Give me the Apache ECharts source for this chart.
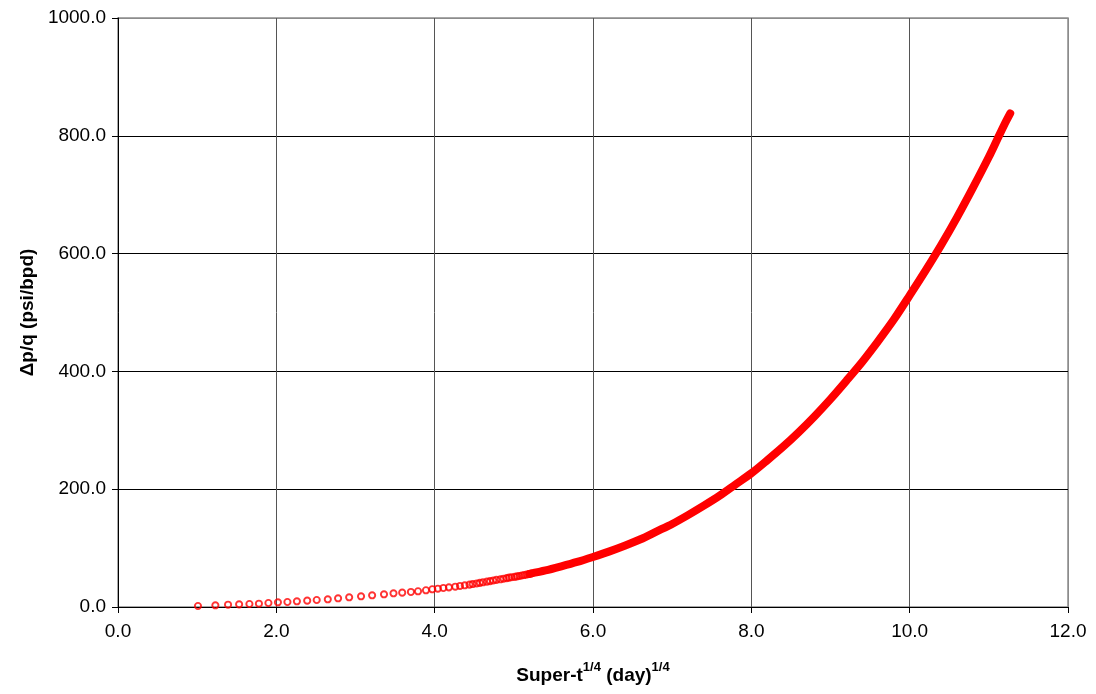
<!DOCTYPE html>
<html>
<head>
<meta charset="utf-8">
<script src="https://cdn.jsdelivr.net/npm/echarts@6/dist/echarts.min.js"></script>
<style>
  html, body { margin: 0; padding: 0; background: #fff; }
  #chart { width: 1096px; height: 694px; }
</style>
</head>
<body>
<div id="chart"></div>
<script>
// Early-time points, drawn as individual hollow markers
const xSparse = [1.01, 1.23, 1.39, 1.53, 1.66, 1.78, 1.90, 2.02, 2.14, 2.26, 2.39, 2.51, 2.65, 2.78,
  2.92, 3.07, 3.21, 3.36, 3.48, 3.59, 3.70, 3.79, 3.89, 3.97, 4.04, 4.11, 4.18, 4.26, 4.32, 4.38,
  4.44, 4.48, 4.53, 4.57, 4.61, 4.66, 4.70, 4.74, 4.78, 4.83, 4.87, 4.91, 4.94, 4.97, 5.01, 5.04,
  5.07, 5.10, 5.13, 5.16, 5.19, 5.22];
const ySparse = [1.7, 2.9, 3.9, 4.5, 5.1, 5.6, 6.8, 8.0, 8.5, 9.7, 10.8, 11.9, 13.1, 14.8,
  16.5, 18.2, 19.9, 21.6, 23.3, 24.4, 25.5, 26.7, 28.4, 30.1, 31.1, 32.3, 33.4, 34.5, 35.7, 36.8,
  38.0, 39.0, 40.0, 41.0, 42.0, 43.0, 44.0, 45.0, 46.0, 47.0, 48.0, 49.0, 49.8, 50.5, 51.2, 52.0,
  52.7, 53.5, 54.3, 55.1, 56.0, 57.0];

// Late-time points, so close together that their markers merge into one band
const xDense = [5.2, 5.4, 5.6, 5.8, 6.0, 6.2, 6.4, 6.6, 6.8, 7.0, 7.2, 7.4, 7.6, 7.8, 8.0, 8.2,
  8.4, 8.6, 8.8, 9.0, 9.2, 9.4, 9.6, 9.8, 10.0, 10.2, 10.4, 10.6, 10.8, 11.0, 11.1, 11.2, 11.27];
const yDense = [56.3, 62, 69, 76.5, 85, 94, 104, 115, 128, 141, 156, 172, 189, 208, 227, 249,
  272, 297, 324, 353, 384, 416, 451, 488, 529, 571, 615, 662, 712, 764, 792, 820, 838];

const xTicks = [0, 2, 4, 6, 8, 10, 12];
const yTicks = [0, 200, 400, 600, 800, 1000];

const FONT = "'Liberation Sans', Arial, sans-serif";
const RED = '#ff0000';
const FRAME = '#8c8c8c';

const chart = echarts.init(document.getElementById('chart'), null, { renderer: 'canvas' });

chart.setOption({
  animation: false,
  backgroundColor: '#ffffff',
  grid: {
    left: 118, right: 28, top: 18, bottom: 87,
    show: true, borderColor: FRAME, borderWidth: 1.5, backgroundColor: 'transparent'
  },
  xAxis: {
    type: 'value',
    min: xTicks[0], max: xTicks[xTicks.length - 1], interval: xTicks[1] - xTicks[0],
    axisLine: { show: true, onZero: false, lineStyle: { color: '#000', width: 1 } },
    axisTick: { show: true, length: 6, lineStyle: { color: '#000' } },
    axisLabel: { margin: 15, fontSize: 19, color: '#000', fontFamily: FONT,
      formatter: v => v.toFixed(1) },
    splitLine: { show: true,
      lineStyle: { color: xTicks.map((t, i) => i === xTicks.length - 1 ? FRAME : '#555'), width: 1 } },
    name: '{b|Super-t}{s|1/4}{b| (day)}{s|1/4}',
    nameLocation: 'middle',
    nameGap: 54,
    nameTextStyle: {
      rich: {
        b: { fontSize: 19, fontWeight: 'bold', fontFamily: FONT, color: '#000',
          lineHeight: 24, verticalAlign: 'bottom' },
        s: { fontSize: 13, fontWeight: 'bold', fontFamily: FONT, color: '#000',
          lineHeight: 24, verticalAlign: 'top', padding: [0, 0, 8, 0] }
      }
    }
  },
  yAxis: {
    type: 'value',
    min: yTicks[0], max: yTicks[yTicks.length - 1], interval: yTicks[1] - yTicks[0],
    axisLine: { show: true, lineStyle: { color: '#000', width: 1 } },
    axisTick: { show: true, length: 6, lineStyle: { color: '#000' } },
    axisLabel: { margin: 12, fontSize: 19, color: '#000', fontFamily: FONT,
      formatter: v => v.toFixed(1) },
    splitLine: { show: true,
      lineStyle: { color: yTicks.map((t, i) => i === yTicks.length - 1 ? FRAME : '#000'), width: 1 } },
    name: 'Δp/q (psi/bpd)',
    nameLocation: 'middle',
    nameGap: 81,
    nameTextStyle: { fontSize: 19, fontWeight: 'bold', fontFamily: FONT, color: '#000' }
  },
  series: [
    {
      name: 'band',
      type: 'line',
      data: xDense.map((x, i) => [x, yDense[i]]),
      showSymbol: false,
      smooth: 0.3,
      lineStyle: { color: RED, width: 8, cap: 'round', join: 'round' },
      silent: true,
      z: 3
    },
    {
      name: 'points',
      type: 'scatter',
      data: xSparse.map((x, i) => [x, ySparse[i]]),
      symbol: 'circle',
      symbolSize: 6.2,
      itemStyle: { color: 'rgba(0,0,0,0)', borderColor: RED, borderWidth: 1.9 },
      silent: true,
      z: 4
    }
  ]
});
</script>
</body>
</html>
